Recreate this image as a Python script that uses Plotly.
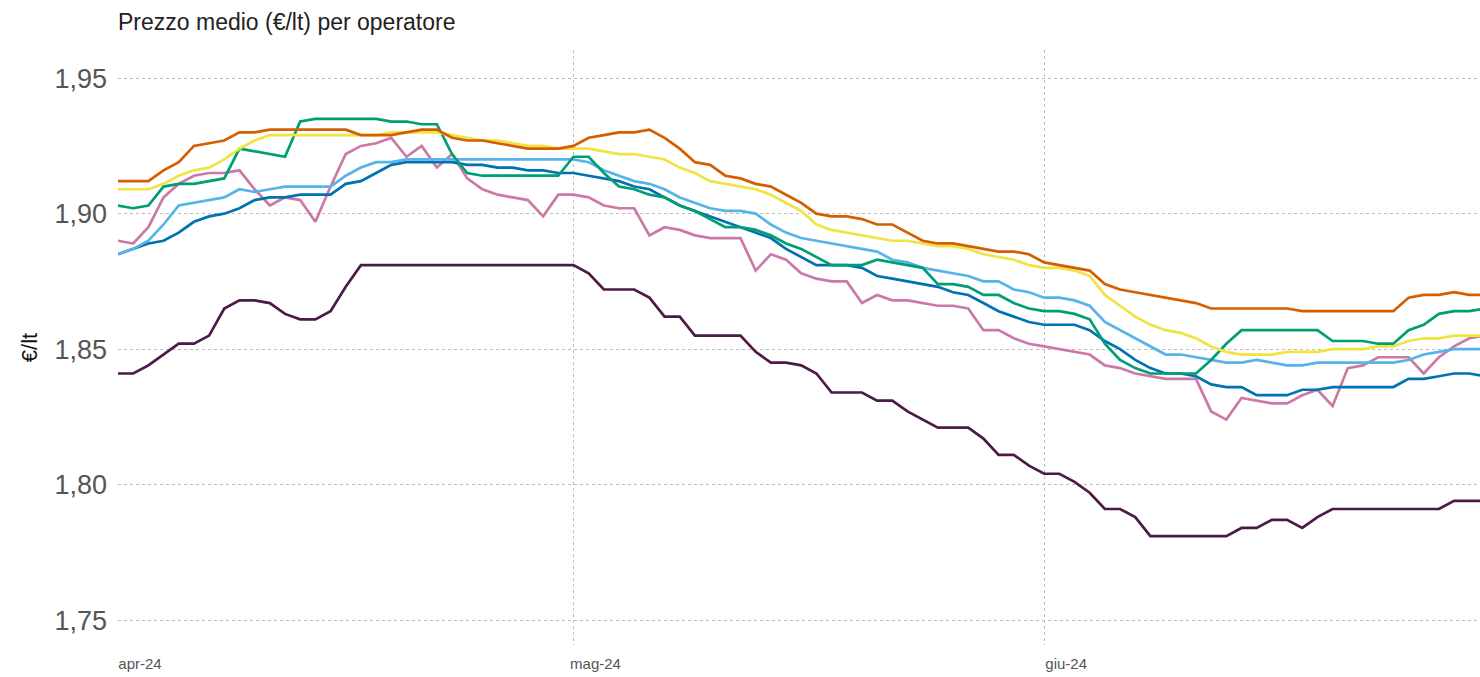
import pandas as pd
import plotly.graph_objects as go

# daily average price (€/lt) per operator, 1 Apr 2024 -> 30 Jun 2024
dates = pd.date_range("2024-04-01", "2024-06-30", freq="D")

orange = [1.912, 1.912, 1.912, 1.916, 1.919, 1.925, 1.926, 1.927, 1.930, 1.930,
          1.931, 1.931, 1.931, 1.931, 1.931, 1.931, 1.929, 1.929, 1.929, 1.930,
          1.931, 1.931, 1.928, 1.927, 1.927, 1.926, 1.925, 1.924, 1.924, 1.924,
          1.925, 1.928, 1.929, 1.930, 1.930, 1.931, 1.928, 1.924, 1.919, 1.918,
          1.914, 1.913, 1.911, 1.910, 1.907, 1.904, 1.900, 1.899, 1.899, 1.898,
          1.896, 1.896, 1.893, 1.890, 1.889, 1.889, 1.888, 1.887, 1.886, 1.886,
          1.885, 1.882, 1.881, 1.880, 1.879, 1.874, 1.872, 1.871, 1.870, 1.869,
          1.868, 1.867, 1.865, 1.865, 1.865, 1.865, 1.865, 1.865, 1.864, 1.864,
          1.864, 1.864, 1.864, 1.864, 1.864, 1.869, 1.870, 1.870, 1.871, 1.870,
          1.870]

yellow = [1.909, 1.909, 1.909, 1.911, 1.914, 1.916, 1.917, 1.920, 1.924, 1.927,
          1.929, 1.929, 1.929, 1.929, 1.929, 1.929, 1.929, 1.929, 1.930, 1.930,
          1.930, 1.930, 1.929, 1.928, 1.927, 1.927, 1.926, 1.925, 1.925, 1.924,
          1.924, 1.924, 1.923, 1.922, 1.922, 1.921, 1.920, 1.917, 1.915, 1.912,
          1.911, 1.910, 1.909, 1.907, 1.904, 1.901, 1.896, 1.894, 1.893, 1.892,
          1.891, 1.890, 1.890, 1.889, 1.888, 1.888, 1.887, 1.885, 1.884, 1.883,
          1.881, 1.880, 1.880, 1.879, 1.877, 1.870, 1.866, 1.862, 1.859, 1.857,
          1.856, 1.854, 1.851, 1.849, 1.848, 1.848, 1.848, 1.849, 1.849, 1.849,
          1.850, 1.850, 1.850, 1.851, 1.851, 1.853, 1.854, 1.854, 1.855, 1.855,
          1.855]

green = [1.903, 1.902, 1.903, 1.910, 1.911, 1.911, 1.912, 1.913, 1.924, 1.923,
         1.922, 1.921, 1.934, 1.935, 1.935, 1.935, 1.935, 1.935, 1.934, 1.934,
         1.933, 1.933, 1.922, 1.915, 1.914, 1.914, 1.914, 1.914, 1.914, 1.914,
         1.921, 1.921, 1.915, 1.910, 1.909, 1.907, 1.906, 1.903, 1.901, 1.898,
         1.895, 1.895, 1.894, 1.892, 1.889, 1.887, 1.884, 1.881, 1.881, 1.881,
         1.883, 1.882, 1.881, 1.880, 1.874, 1.874, 1.873, 1.870, 1.870, 1.867,
         1.865, 1.864, 1.864, 1.863, 1.861, 1.852, 1.846, 1.843, 1.841, 1.841,
         1.841, 1.841, 1.846, 1.852, 1.857, 1.857, 1.857, 1.857, 1.857, 1.857,
         1.853, 1.853, 1.853, 1.852, 1.852, 1.857, 1.859, 1.863, 1.864, 1.864,
         1.865]

lightblue = [1.885, 1.887, 1.890, 1.896, 1.903, 1.904, 1.905, 1.906, 1.909, 1.908,
             1.909, 1.910, 1.910, 1.910, 1.910, 1.914, 1.917, 1.919, 1.919, 1.920,
             1.920, 1.920, 1.920, 1.920, 1.920, 1.920, 1.920, 1.920, 1.920, 1.920,
             1.920, 1.919, 1.916, 1.914, 1.912, 1.911, 1.909, 1.906, 1.904, 1.902,
             1.901, 1.901, 1.900, 1.896, 1.893, 1.891, 1.890, 1.889, 1.888, 1.887,
             1.886, 1.883, 1.882, 1.880, 1.879, 1.878, 1.877, 1.875, 1.875, 1.872,
             1.871, 1.869, 1.869, 1.868, 1.866, 1.860, 1.857, 1.854, 1.851, 1.848,
             1.848, 1.847, 1.846, 1.845, 1.845, 1.846, 1.845, 1.844, 1.844, 1.845,
             1.845, 1.845, 1.845, 1.845, 1.845, 1.846, 1.848, 1.849, 1.850, 1.850,
             1.850]

blue = [1.885, 1.887, 1.889, 1.890, 1.893, 1.897, 1.899, 1.900, 1.902, 1.905,
        1.906, 1.906, 1.907, 1.907, 1.907, 1.911, 1.912, 1.915, 1.918, 1.919,
        1.919, 1.919, 1.919, 1.918, 1.918, 1.917, 1.917, 1.916, 1.916, 1.915,
        1.915, 1.914, 1.913, 1.912, 1.910, 1.909, 1.906, 1.903, 1.901, 1.899,
        1.897, 1.895, 1.893, 1.891, 1.887, 1.884, 1.881, 1.881, 1.881, 1.880,
        1.877, 1.876, 1.875, 1.874, 1.873, 1.871, 1.870, 1.867, 1.864, 1.862,
        1.860, 1.859, 1.859, 1.859, 1.857, 1.853, 1.850, 1.846, 1.843, 1.841,
        1.841, 1.840, 1.837, 1.836, 1.836, 1.833, 1.833, 1.833, 1.835, 1.835,
        1.836, 1.836, 1.836, 1.836, 1.836, 1.839, 1.839, 1.840, 1.841, 1.841,
        1.840]

pink = [1.890, 1.889, 1.895, 1.906, 1.911, 1.914, 1.915, 1.915, 1.916, 1.909,
        1.903, 1.906, 1.905, 1.897, 1.910, 1.922, 1.925, 1.926, 1.928, 1.921,
        1.925, 1.917, 1.922, 1.913, 1.909, 1.907, 1.906, 1.905, 1.899, 1.907,
        1.907, 1.906, 1.903, 1.902, 1.902, 1.892, 1.895, 1.894, 1.892, 1.891,
        1.891, 1.891, 1.879, 1.885, 1.883, 1.878, 1.876, 1.875, 1.875, 1.867,
        1.870, 1.868, 1.868, 1.867, 1.866, 1.866, 1.865, 1.857, 1.857, 1.854,
        1.852, 1.851, 1.850, 1.849, 1.848, 1.844, 1.843, 1.841, 1.840, 1.839,
        1.839, 1.839, 1.827, 1.824, 1.832, 1.831, 1.830, 1.830, 1.833, 1.835,
        1.829, 1.843, 1.844, 1.847, 1.847, 1.847, 1.841, 1.847, 1.851, 1.854,
        1.855]

purple = [1.841, 1.841, 1.844, 1.848, 1.852, 1.852, 1.855, 1.865, 1.868, 1.868,
          1.867, 1.863, 1.861, 1.861, 1.864, 1.873, 1.881, 1.881, 1.881, 1.881,
          1.881, 1.881, 1.881, 1.881, 1.881, 1.881, 1.881, 1.881, 1.881, 1.881,
          1.881, 1.878, 1.872, 1.872, 1.872, 1.869, 1.862, 1.862, 1.855, 1.855,
          1.855, 1.855, 1.849, 1.845, 1.845, 1.844, 1.841, 1.834, 1.834, 1.834,
          1.831, 1.831, 1.827, 1.824, 1.821, 1.821, 1.821, 1.817, 1.811, 1.811,
          1.807, 1.804, 1.804, 1.801, 1.797, 1.791, 1.791, 1.788, 1.781, 1.781,
          1.781, 1.781, 1.781, 1.781, 1.784, 1.784, 1.787, 1.787, 1.784, 1.788,
          1.791, 1.791, 1.791, 1.791, 1.791, 1.791, 1.791, 1.791, 1.794, 1.794,
          1.794]

tick_dates = ["2024-04-01", "2024-05-01", "2024-06-01"]
tick_labels = ["apr-24", "mag-24", "giu-24"]

series = [
    (purple, "#4B1A45"),
    (pink, "#CC79A7"),
    (blue, "#0072B2"),
    (lightblue, "#56B4E9"),
    (green, "#009E73"),
    (yellow, "#F0E442"),
    (orange, "#D55E00"),
]

fig = go.Figure()
for values, color in series:
    fig.add_trace(go.Scatter(x=dates, y=values, mode="lines",
                             line=dict(color=color, width=2.7),
                             hoverinfo="x+y"))

fig.update_layout(
    width=1480, height=677,
    margin=dict(l=118, r=0, t=50, b=32),
    paper_bgcolor="white", plot_bgcolor="white",
    showlegend=False,
    separators=",.",
    font=dict(family="Liberation Sans, Arial, sans-serif", color="#444"),
    title=dict(text="Prezzo medio (€/lt) per operatore", x=118 / 1480, xanchor="left",
               y=1 - 22 / 677, yanchor="middle",
               font=dict(size=23, color="#222")),
)
fig.update_xaxes(
    range=["2024-04-01", "2024-06-29 17:00"],
    tickvals=tick_dates, ticktext=tick_labels,
    ticklabelshift=22, ticklabelstandoff=8,
    tickfont=dict(size=15, color="#555"),
    showgrid=True, gridcolor="#bdbdbd", griddash="dot", gridwidth=1,
    showline=False, zeroline=False, ticks="", automargin=False,
)
fig.update_yaxes(
    range=[1.7408, 1.9604],
    tickvals=[1.75, 1.80, 1.85, 1.90, 1.95], tickformat=".2f",
    tickfont=dict(size=27, color="#555"), ticklabelstandoff=10,
    showgrid=True, gridcolor="#bdbdbd", griddash="dot", gridwidth=1,
    showline=False, zeroline=False, ticks="", automargin=False,
    title=dict(text="€/lt", font=dict(size=22, color="#111"), standoff=10),
)

# page has a default 8px body margin; drop it so the figure sits at 0,0
fig.write_html("out.html", config={"displayModeBar": False},
               post_script="document.body.style.margin='0';")
